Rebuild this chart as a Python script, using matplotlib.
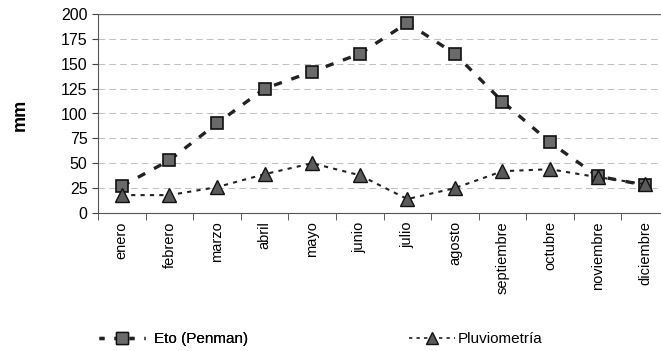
import numpy as np
import matplotlib.pyplot as plt
from matplotlib.lines import Line2D

plt.rcParams['font.family'] = ['Liberation Sans', 'DejaVu Sans']

meses = ['enero', 'febrero', 'marzo', 'abril', 'mayo', 'junio', 'julio',
         'agosto', 'septiembre', 'octubre', 'noviembre', 'diciembre']
eto = [27, 53, 90, 125, 142, 160, 191, 160, 112, 71, 37, 28]
pluvio = [18, 18, 26, 39, 50, 38, 14, 25, 42, 44, 36, 29]

fig = plt.figure(figsize=(6.61, 3.51), dpi=100)
ax = fig.add_axes([98/661, 1 - 213/351, 571/661, 199/351])

x = np.arange(len(meses))
ax.plot(x, eto, color='#222222', lw=2.4, ls=(0, (2.5, 3)), marker='s', ms=9,
        mfc='#6a6a6a', mec='#111111', mew=1.2)
ax.plot(x, pluvio, color='#222222', lw=1.5, ls=(0, (2, 2.5)), marker='^', ms=9.5,
        mfc='#5a5a5a', mec='#111111', mew=1.0)

ax.set_xlim(-0.5, len(meses) - 0.5)
ax.set_ylim(0, 200)
ax.set_yticks(np.arange(0, 201, 25))
for yv in range(25, 200, 25):
    ax.axhline(yv, color='#b5b5b5', lw=0.6, ls=(0, (8, 5)), zorder=0)
ax.axhline(200, color='#666666', lw=1.0, zorder=0)

ax.set_xticks(x)
ax.set_xticklabels(meses, rotation=90, fontsize=10.5)
ax.set_xticks(np.arange(-0.5, len(meses), 1), minor=True)
ax.tick_params(axis='x', which='major', length=0, pad=6)
ax.tick_params(axis='x', which='minor', length=5, direction='out', color='#444444')
ax.tick_params(axis='y', labelsize=11.5, length=4, color='#444444')

for s in ['top', 'right']:
    ax.spines[s].set_visible(False)
ax.spines['left'].set_color('#555555')
ax.spines['bottom'].set_color('#555555')

fig.text(20/661, 1 - 115/351, 'mm', rotation=90, fontsize=13, fontweight='bold',
         ha='center', va='center')

h_eto = Line2D([], [], color='#222222', lw=2.4, ls=(0, (1.5, 3)), marker='s', ms=8,
               mfc='#6a6a6a', mec='#111111')
h_pluvio = Line2D([], [], color='#222222', lw=1.2, ls=(0, (2, 2.5)), marker='^', ms=8,
                  mfc='#5a5a5a', mec='#111111')
leg1 = fig.legend([h_eto], ['Eto (Penman)'], loc='center left',
                  bbox_to_anchor=(85/661, 1 - 339/351), frameon=False,
                  fontsize=11, handlelength=3.0, handletextpad=0.6)
fig.add_artist(leg1)
fig.legend([h_pluvio], ['Pluviometría'], loc='center left',
           bbox_to_anchor=(395/661, 1 - 339/351), frameon=False,
           fontsize=11, handlelength=3.0, handletextpad=0.2)

fig.savefig('out.png', dpi=100)
